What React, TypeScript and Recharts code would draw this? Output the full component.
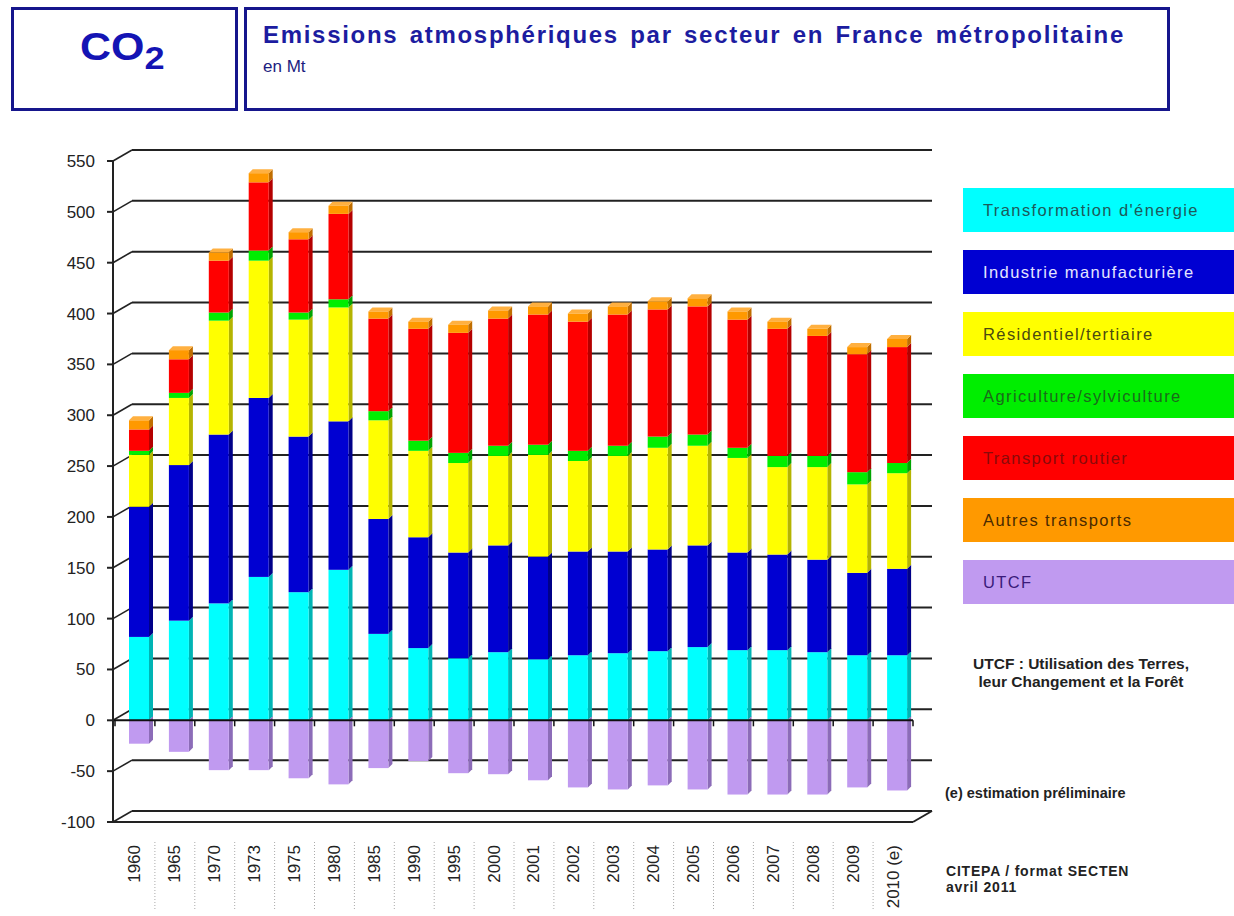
import React from 'react';
import { BarChart, Bar, XAxis, YAxis, CartesianGrid, ReferenceLine, Legend } from 'recharts';

const YEARS = ['1960', '1965', '1970', '1973', '1975', '1980', '1985', '1990', '1995', '2000', '2001', '2002', '2003', '2004', '2005', '2006', '2007', '2008', '2009', '2010 (e)'];
const ENERGIE = [82, 98, 115, 141, 126, 148, 85, 71, 61, 67, 60, 64, 66, 68, 72, 69, 69, 67, 64, 64];
const INDUSTRIE = [128, 153, 166, 176, 153, 146, 113, 109, 104, 105, 101, 102, 100, 100, 100, 96, 94, 91, 81, 85];
const RESIDENTIEL = [51, 66, 112, 135, 115, 112, 97, 85, 88, 88, 100, 89, 94, 100, 98, 93, 86, 91, 87, 94];
const AGRICULTURE = [4, 5, 8, 10, 7, 8, 9, 10, 10, 10, 10, 10, 10, 11, 11, 10, 11, 11, 12, 10];
const ROUTIER = [21, 33, 51, 67, 72, 84, 91, 110, 118, 125, 128, 127, 129, 125, 126, 126, 125, 118, 116, 114];
const AUTRES = [9, 9, 8, 9, 7, 8, 7, 7, 8, 8, 8, 8, 8, 8, 8, 8, 7, 7, 7, 8];
const UTCF = [-23, -31, -49, -49, -57, -63, -47, -40, -52, -53, -59, -66, -68, -64, -68, -73, -73, -73, -66, -69];

const Y_TICKS = [-100, -50, 0, 50, 100, 150, 200, 250, 300, 350, 400, 450, 500, 550];

const SERIES_KEYS = ['energie', 'industrie', 'residentiel', 'agriculture', 'routier', 'autres', 'utcf'];
const SERIES_NAMES = ["Transformation d'énergie", 'Industrie manufacturière', 'Résidentiel/tertiaire', 'Agriculture/sylviculture', 'Transport routier', 'Autres transports', 'UTCF'];
const SERIES_COLORS = ['#00ffff', '#0000d2', '#ffff00', '#00ee00', '#ff0000', '#ff9900', '#c09af0'];
const SERIES_SIDES = ['#00b4b4', '#000088', '#b4b400', '#00a400', '#b40000', '#c06e00', '#8c6cb8'];
const LEGEND_TEXT = ['#1d5a5a', '#e4e4ff', '#4a4a10', '#1b6a1b', '#8a0a0a', '#4a2a00', '#3a1a7a'];

const DATA = YEARS.map((year, i) => ({
  year,
  energie: ENERGIE[i],
  industrie: INDUSTRIE[i],
  residentiel: RESIDENTIEL[i],
  agriculture: AGRICULTURE[i],
  routier: ROUTIER[i],
  autres: AUTRES[i],
  utcf: UTCF[i],
}));

const FONT = 'Arial, "Liberation Sans", sans-serif';
const DX = 19;
const DY = 11;
const BAR_DX = 4;
const BAR_DY = 4;
const BAR_SHIFT = 4;
const PAD_LEFT = 2;

const makeShape = (side: string, cap: string | null) => (props: any) => {
  const { x, y, width, height, fill } = props;
  if (x == null || y == null) return <g />;
  const top = Math.min(y, y + height);
  const h = Math.abs(height);
  const bx = x + BAR_SHIFT;
  const bottom = top + h;
  return (
    <g>
      <polygon
        points={`${bx + width},${top} ${bx + width + BAR_DX},${top - BAR_DY} ${bx + width + BAR_DX},${bottom - BAR_DY} ${bx + width},${bottom}`}
        fill={side}
      />
      {cap && (
        <polygon
          points={`${bx},${top} ${bx + BAR_DX},${top - BAR_DY} ${bx + width + BAR_DX},${top - BAR_DY} ${bx + width},${top}`}
          fill={cap}
        />
      )}
      <rect x={bx} y={top} width={width} height={h} fill={fill} />
    </g>
  );
};

const GridLine = (props: any) => {
  const { x1, y1, x2, y2 } = props;
  const isFloor =
    props.y != null && props.height != null ? Math.abs(y1 - (props.y + props.height)) < 1 : props.index === 0;
  return (
    <g key={props.key}>
      <line x1={x1} y1={y1} x2={x1 + DX} y2={y1 - DY} stroke="#222" strokeWidth={1.6} />
      <line x1={x1 + DX} y1={y1 - DY} x2={x2 + DX} y2={y2 - DY} stroke="#222" strokeWidth={2} />
      {isFloor && <line x1={x2} y1={y2} x2={x2 + DX} y2={y2 - DY} stroke="#222" strokeWidth={2} />}
    </g>
  );
};

const ZeroLine = (props: any) => {
  const { x1, y1, x2 } = props;
  const n = YEARS.length;
  const start = x1 + PAD_LEFT;
  const step = (x2 - start) / n;
  return (
    <g>
      <line x1={x1} y1={y1} x2={x2} y2={y1} stroke="#111" strokeWidth={2} />
      {Array.from({ length: n + 1 }, (_, i) => (
        <line key={i} x1={start + i * step} y1={y1} x2={start + i * step} y2={y1 + 6} stroke="#111" strokeWidth={1.5} />
      ))}
    </g>
  );
};

const XTick = (props: any) => {
  const { x, y, payload, index } = props;
  const off = payload.offset || 20;
  return (
    <g>
      <text
        transform={`translate(${x},${y + 15}) rotate(-90)`}
        textAnchor="end"
        dominantBaseline="central"
        fontSize={17}
        fontFamily={FONT}
        fill="#222"
      >
        {payload.value}
      </text>
      {index < YEARS.length - 1 && (
        <line x1={x + off} y1={y + 12} x2={x + off} y2={y + 80} stroke="#aaa" strokeWidth={1} strokeDasharray="1 2" />
      )}
    </g>
  );
};

const LegendContent = () => (
  <div style={{ fontFamily: FONT }}>
    {SERIES_NAMES.map((name, i) => (
      <div
        key={name}
        style={{
          height: 44,
          marginBottom: 18,
          background: SERIES_COLORS[i],
          color: LEGEND_TEXT[i],
          fontSize: 16.5,
          letterSpacing: 1.4,
          display: 'flex',
          alignItems: 'center',
          paddingLeft: 20,
          boxSizing: 'border-box',
        }}
      >
        {name}
      </div>
    ))}
  </div>
);

const boxBorder = '3px solid #16168c';

export default function App() {
  return (
    <div style={{ position: 'absolute', left: 0, top: 0, width: 1234, height: 916, background: '#fff', fontFamily: FONT, overflow: 'hidden' }}>
      <div style={{ position: 'absolute', left: 11, top: 7, width: 221, height: 98, border: boxBorder, boxSizing: 'content-box' }} />
      <div style={{ position: 'absolute', left: 244, top: 7, width: 920, height: 98, border: boxBorder }} />
      <div style={{ position: 'absolute', left: 80, top: 26, color: '#1414b4', fontWeight: 'bold', fontSize: 38, transform: 'scaleX(1.13)', transformOrigin: 'left top', whiteSpace: 'nowrap' }}>
        CO<span style={{ fontSize: 32, position: 'relative', top: 9 }}>2</span>
      </div>
      <div style={{ position: 'absolute', left: 263, top: 21, color: '#1c1ca0', fontWeight: 'bold', fontSize: 24, letterSpacing: 1.7, wordSpacing: 3, whiteSpace: 'nowrap' }}>
        Emissions atmosphériques par secteur en France métropolitaine
      </div>
      <div style={{ position: 'absolute', left: 263, top: 57, color: '#1c1c80', fontSize: 17, whiteSpace: 'nowrap' }}>en Mt</div>

      <div style={{ position: 'absolute', left: 0, top: 0 }}>
        <BarChart width={1234} height={916} data={DATA} stackOffset="sign" margin={{ top: 161, right: 321, bottom: 4, left: 10 }} barSize={20}>
          <CartesianGrid vertical={false} horizontal={GridLine as any} />
          <XAxis
            dataKey="year"
            interval={0}
            height={90}
            padding={{ left: PAD_LEFT, right: 0 }}
            tickLine={false}
            axisLine={{ stroke: '#222', strokeWidth: 2 }}
            tick={<XTick />}
          />
          <YAxis
            width={103}
            domain={[-100, 550]}
            ticks={Y_TICKS}
            interval={0}
            allowDataOverflow
            tickSize={6}
            tickMargin={12}
            tickLine={{ stroke: '#222', strokeWidth: 2 }}
            axisLine={{ stroke: '#222', strokeWidth: 2 }}
            tick={{ fontSize: 17, fill: '#222', fontFamily: FONT }}
          />
          {SERIES_KEYS.map((key, i) => (
            <Bar
              key={key}
              dataKey={key}
              name={SERIES_NAMES[i]}
              stackId="a"
              fill={SERIES_COLORS[i]}
              isAnimationActive={false}
              shape={makeShape(SERIES_SIDES[i], key === 'autres' ? '#ffb040' : null)}
            />
          ))}
          <ReferenceLine y={0} shape={ZeroLine} />
          <Legend
            layout="vertical"
            align="center"
            verticalAlign="middle"
            content={<LegendContent />}
            wrapperStyle={{ left: 963, top: 188, width: 271 }}
          />
        </BarChart>
      </div>

      <div style={{ position: 'absolute', left: 940, top: 655, width: 282, textAlign: 'center', fontSize: 15.5, color: '#222', lineHeight: '18px', fontWeight: 600, whiteSpace: 'nowrap' }}>
        UTCF : Utilisation des Terres,<br />leur Changement et la Forêt
      </div>
      <div style={{ position: 'absolute', left: 945, top: 785, fontSize: 14.5, color: '#222', fontWeight: 600, whiteSpace: 'nowrap' }}>
        (e) estimation préliminaire
      </div>
      <div style={{ position: 'absolute', left: 946, top: 863, fontSize: 14, letterSpacing: 0.8, color: '#222', fontWeight: 600, lineHeight: '16px', whiteSpace: 'nowrap' }}>
        CITEPA / format SECTEN<br />avril 2011
      </div>
    </div>
  );
}
